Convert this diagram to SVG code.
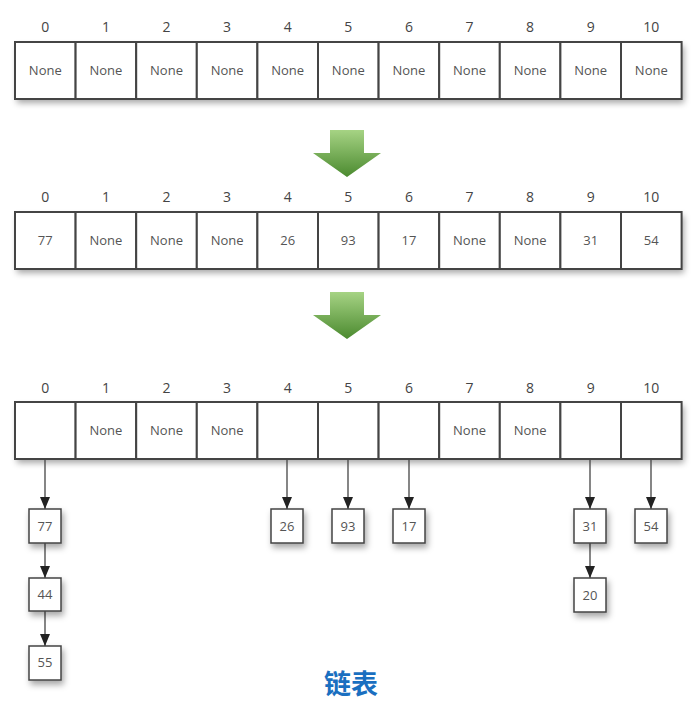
<svg xmlns="http://www.w3.org/2000/svg" width="696" height="714" viewBox="0 0 696 714">
<style>
.cell{fill:#fff;stroke:#444;stroke-width:2}
.node{fill:#fff;stroke:#444;stroke-width:1.5}
.t{font-family:"Open Sans","DejaVu Sans",sans-serif;font-size:13px;fill:#555;text-anchor:middle}
.idx{font-family:"Open Sans","DejaVu Sans",sans-serif;font-size:14px;fill:#444;text-anchor:middle}
.conn line{stroke:#444;stroke-width:1.3}
</style>
<defs>
<filter id="sh" x="-20%" y="-20%" width="150%" height="160%">
<feDropShadow dx="2" dy="4" stdDeviation="3" flood-color="#000" flood-opacity="0.35"/>
</filter>
<linearGradient id="g" x1="0" y1="0" x2="0" y2="1">
<stop offset="0" stop-color="#a6d384"/>
<stop offset="1" stop-color="#4b8a2f"/>
</linearGradient>
<marker id="ah" markerWidth="12" markerHeight="10" refX="12" refY="5" orient="auto" markerUnits="userSpaceOnUse" viewBox="0 0 12 10">
<path d="M0,0 L12,5 L0,10 Z" fill="#222"/>
</marker>
</defs>
<rect width="696" height="714" fill="#fff"/>

<!-- Row 1 -->
<g id="row1">
<rect x="15" y="42" width="667" height="57" fill="#fff" filter="url(#sh)"/>
<g id="r1c0"><rect class="cell" x="15" y="42" width="60.6" height="57"/><text class="idx" x="45.3" y="32">0</text><text class="t" x="45.3" y="75">None</text></g>
<g id="r1c1"><rect class="cell" x="75.6" y="42" width="60.6" height="57"/><text class="idx" x="105.9" y="32">1</text><text class="t" x="105.9" y="75">None</text></g>
<g id="r1c2"><rect class="cell" x="136.2" y="42" width="60.6" height="57"/><text class="idx" x="166.5" y="32">2</text><text class="t" x="166.5" y="75">None</text></g>
<g id="r1c3"><rect class="cell" x="196.8" y="42" width="60.6" height="57"/><text class="idx" x="227.1" y="32">3</text><text class="t" x="227.1" y="75">None</text></g>
<g id="r1c4"><rect class="cell" x="257.4" y="42" width="60.6" height="57"/><text class="idx" x="287.7" y="32">4</text><text class="t" x="287.7" y="75">None</text></g>
<g id="r1c5"><rect class="cell" x="318" y="42" width="60.6" height="57"/><text class="idx" x="348.3" y="32">5</text><text class="t" x="348.3" y="75">None</text></g>
<g id="r1c6"><rect class="cell" x="378.6" y="42" width="60.6" height="57"/><text class="idx" x="408.9" y="32">6</text><text class="t" x="408.9" y="75">None</text></g>
<g id="r1c7"><rect class="cell" x="439.2" y="42" width="60.6" height="57"/><text class="idx" x="469.5" y="32">7</text><text class="t" x="469.5" y="75">None</text></g>
<g id="r1c8"><rect class="cell" x="499.8" y="42" width="60.6" height="57"/><text class="idx" x="530.1" y="32">8</text><text class="t" x="530.1" y="75">None</text></g>
<g id="r1c9"><rect class="cell" x="560.4" y="42" width="60.6" height="57"/><text class="idx" x="590.7" y="32">9</text><text class="t" x="590.7" y="75">None</text></g>
<g id="r1c10"><rect class="cell" x="621" y="42" width="60.6" height="57"/><text class="idx" x="651.3" y="32">10</text><text class="t" x="651.3" y="75">None</text></g>
</g>

<g id="arrow1"><path d="M330,130 H364 V153 H381 L347,177 L313,153 H330 Z" fill="url(#g)"/></g>

<!-- Row 2 -->
<g id="row2">
<rect x="15" y="212" width="667" height="57" fill="#fff" filter="url(#sh)"/>
<g id="r2c0"><rect class="cell" x="15" y="212" width="60.6" height="57"/><text class="idx" x="45.3" y="202">0</text><text class="t" x="45.3" y="245">77</text></g>
<g id="r2c1"><rect class="cell" x="75.6" y="212" width="60.6" height="57"/><text class="idx" x="105.9" y="202">1</text><text class="t" x="105.9" y="245">None</text></g>
<g id="r2c2"><rect class="cell" x="136.2" y="212" width="60.6" height="57"/><text class="idx" x="166.5" y="202">2</text><text class="t" x="166.5" y="245">None</text></g>
<g id="r2c3"><rect class="cell" x="196.8" y="212" width="60.6" height="57"/><text class="idx" x="227.1" y="202">3</text><text class="t" x="227.1" y="245">None</text></g>
<g id="r2c4"><rect class="cell" x="257.4" y="212" width="60.6" height="57"/><text class="idx" x="287.7" y="202">4</text><text class="t" x="287.7" y="245">26</text></g>
<g id="r2c5"><rect class="cell" x="318" y="212" width="60.6" height="57"/><text class="idx" x="348.3" y="202">5</text><text class="t" x="348.3" y="245">93</text></g>
<g id="r2c6"><rect class="cell" x="378.6" y="212" width="60.6" height="57"/><text class="idx" x="408.9" y="202">6</text><text class="t" x="408.9" y="245">17</text></g>
<g id="r2c7"><rect class="cell" x="439.2" y="212" width="60.6" height="57"/><text class="idx" x="469.5" y="202">7</text><text class="t" x="469.5" y="245">None</text></g>
<g id="r2c8"><rect class="cell" x="499.8" y="212" width="60.6" height="57"/><text class="idx" x="530.1" y="202">8</text><text class="t" x="530.1" y="245">None</text></g>
<g id="r2c9"><rect class="cell" x="560.4" y="212" width="60.6" height="57"/><text class="idx" x="590.7" y="202">9</text><text class="t" x="590.7" y="245">31</text></g>
<g id="r2c10"><rect class="cell" x="621" y="212" width="60.6" height="57"/><text class="idx" x="651.3" y="202">10</text><text class="t" x="651.3" y="245">54</text></g>
</g>

<g id="arrow2"><path d="M330,292 H364 V315 H381 L347,339 L313,315 H330 Z" fill="url(#g)"/></g>

<!-- Row 3 -->
<g id="row3">
<rect x="15" y="402" width="667" height="57" fill="#fff" filter="url(#sh)"/>
<g id="r3c0"><rect class="cell" x="15" y="402" width="60.6" height="57"/><text class="idx" x="45.3" y="393">0</text></g>
<g id="r3c1"><rect class="cell" x="75.6" y="402" width="60.6" height="57"/><text class="idx" x="105.9" y="393">1</text><text class="t" x="105.9" y="435">None</text></g>
<g id="r3c2"><rect class="cell" x="136.2" y="402" width="60.6" height="57"/><text class="idx" x="166.5" y="393">2</text><text class="t" x="166.5" y="435">None</text></g>
<g id="r3c3"><rect class="cell" x="196.8" y="402" width="60.6" height="57"/><text class="idx" x="227.1" y="393">3</text><text class="t" x="227.1" y="435">None</text></g>
<g id="r3c4"><rect class="cell" x="257.4" y="402" width="60.6" height="57"/><text class="idx" x="287.7" y="393">4</text></g>
<g id="r3c5"><rect class="cell" x="318" y="402" width="60.6" height="57"/><text class="idx" x="348.3" y="393">5</text></g>
<g id="r3c6"><rect class="cell" x="378.6" y="402" width="60.6" height="57"/><text class="idx" x="408.9" y="393">6</text></g>
<g id="r3c7"><rect class="cell" x="439.2" y="402" width="60.6" height="57"/><text class="idx" x="469.5" y="393">7</text><text class="t" x="469.5" y="435">None</text></g>
<g id="r3c8"><rect class="cell" x="499.8" y="402" width="60.6" height="57"/><text class="idx" x="530.1" y="393">8</text><text class="t" x="530.1" y="435">None</text></g>
<g id="r3c9"><rect class="cell" x="560.4" y="402" width="60.6" height="57"/><text class="idx" x="590.7" y="393">9</text></g>
<g id="r3c10"><rect class="cell" x="621" y="402" width="60.6" height="57"/><text class="idx" x="651.3" y="393">10</text></g>
</g>

<!-- connectors -->
<g id="connectors" class="conn">
<line x1="45" y1="459" x2="45" y2="509" marker-end="url(#ah)"/>
<line x1="45" y1="543" x2="45" y2="578" marker-end="url(#ah)"/>
<line x1="45" y1="611" x2="45" y2="646" marker-end="url(#ah)"/>
<line x1="287" y1="459" x2="287" y2="509" marker-end="url(#ah)"/>
<line x1="348" y1="459" x2="348" y2="509" marker-end="url(#ah)"/>
<line x1="409" y1="459" x2="409" y2="509" marker-end="url(#ah)"/>
<line x1="590" y1="459" x2="590" y2="509" marker-end="url(#ah)"/>
<line x1="590" y1="543" x2="590" y2="578" marker-end="url(#ah)"/>
<line x1="651" y1="459" x2="651" y2="509" marker-end="url(#ah)"/>
</g>

<!-- linked nodes -->
<g id="n77"><rect class="node" x="29" y="509" width="32" height="34" filter="url(#sh)"/><text class="t" x="45" y="531">77</text></g>
<g id="n44"><rect class="node" x="29" y="578" width="32" height="33" filter="url(#sh)"/><text class="t" x="45" y="599">44</text></g>
<g id="n55"><rect class="node" x="29" y="646" width="32" height="34" filter="url(#sh)"/><text class="t" x="45" y="667">55</text></g>
<g id="n26"><rect class="node" x="271" y="509" width="32" height="34" filter="url(#sh)"/><text class="t" x="287" y="531">26</text></g>
<g id="n93"><rect class="node" x="332" y="509" width="32" height="34" filter="url(#sh)"/><text class="t" x="348" y="531">93</text></g>
<g id="n17"><rect class="node" x="393" y="509" width="32" height="34" filter="url(#sh)"/><text class="t" x="409" y="531">17</text></g>
<g id="n31"><rect class="node" x="574" y="509" width="32" height="34" filter="url(#sh)"/><text class="t" x="590" y="531">31</text></g>
<g id="n20"><rect class="node" x="574" y="578" width="32" height="34" filter="url(#sh)"/><text class="t" x="590" y="600">20</text></g>
<g id="n54"><rect class="node" x="635" y="509" width="32" height="34" filter="url(#sh)"/><text class="t" x="651" y="531">54</text></g>

<text x="351" y="694" font-family="'Noto Sans CJK SC',sans-serif" font-size="27" font-weight="bold" fill="#1a6fc0" text-anchor="middle">链表</text>
</svg>
